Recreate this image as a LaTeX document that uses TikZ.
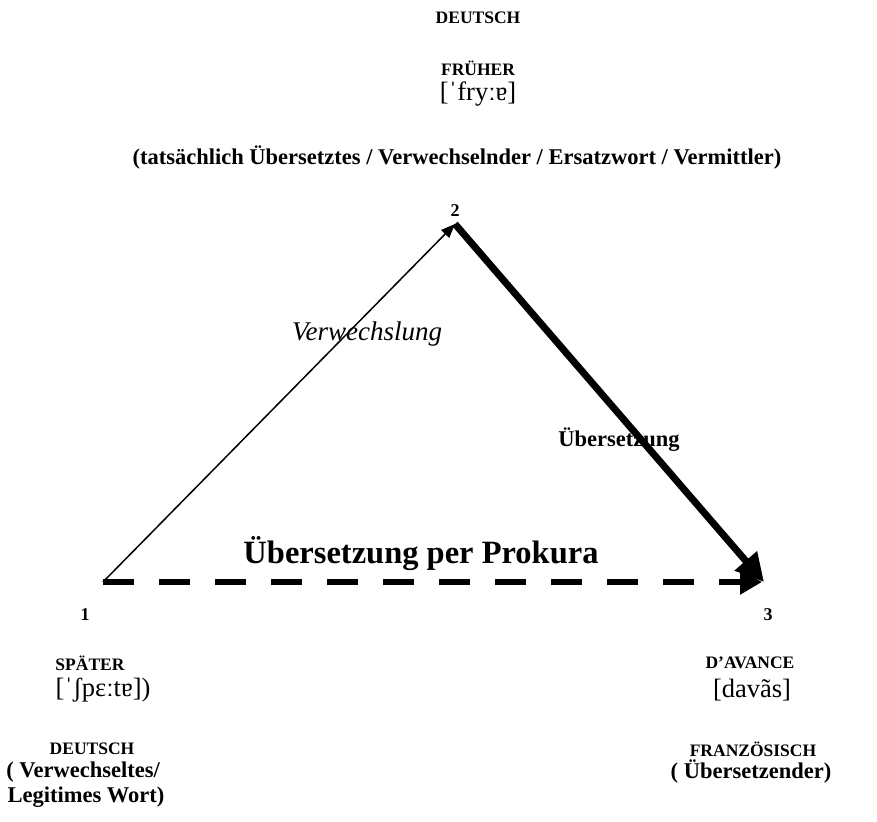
\documentclass[tikz,border=0pt]{standalone}
\usepackage{fontspec}
\setmainfont{Liberation Serif}
\usetikzlibrary{arrows.meta}
\begin{document}
\begin{tikzpicture}[x=1pt,y=-1pt,
  lbl/.style={font=\bfseries\fontsize{17.5}{21}\selectfont, inner sep=0pt, align=center},
  big/.style={font=\bfseries\fontsize{22.5}{26}\selectfont, inner sep=0pt, align=center},
  ipa/.style={font=\fontsize{26.5}{30}\selectfont, inner sep=0pt},
  num/.style={font=\bfseries\fontsize{18}{21}\selectfont, inner sep=0pt}]
\useasboundingbox (0,0) rectangle (877,821);
\fill[white] (0,0) rectangle (877,821);
\coordinate (v1) at (103,582);
\coordinate (v2) at (455,224);
\coordinate (v3) at (764,582);
\coordinate (v3d) at (762,582);
% top labels
\node[lbl] (deu) at (478,18) {DEUTSCH};
\node[lbl] (fru) at (478,68) {FRÜHER};
\node[ipa] (fruipa) at (478,94) {[ˈfryːɐ]};
\node[big] (role2) at (457,158) {(tatsächlich Übersetztes / Verwechselnder / Ersatzwort / Vermittler)};
\node[num] (n2) at (455,211) {2};
% edges
\draw[line width=1.5pt, -{Triangle[length=14pt,width=11pt]}] (v1) -- (v2);
\draw[line width=7pt, -{Triangle[length=28pt,width=28pt]}] (v2) -- (v3);
\draw[line width=6pt, dash pattern=on 31pt off 25pt, -{Triangle[length=22pt,width=24pt]}] (v1) -- (v3d);
% edge labels
\node[font=\itshape\fontsize{27}{31}\selectfont, inner sep=0pt] (lverw) at (367,334) {Verwechslung};
\node[big] (lueb) at (619,440) {Übersetzung};
\node[font=\bfseries\fontsize{32.5}{37}\selectfont, inner sep=0pt] (lprok) at (421,554) {Übersetzung per Prokura};
% vertex 1 labels
\node[num] (n1) at (85,615) {1};
\node[lbl] (spa) at (90,663) {SPÄTER};
\node[ipa] (spaipa) at (103,690) {[ˈʃpɛːtɐ])};
\node[lbl] (deu1) at (92,749) {DEUTSCH};
\node[big] (r1a) at (83,772) {( Verwechseltes/};
\node[big] (r1b) at (86,797) {Legitimes Wort)};
% vertex 3 labels
\node[num] (n3) at (768,615) {3};
\node[lbl] (dav) at (750,663) {D’AVANCE};
\node[ipa] (davipa) at (752,690) {[davãs]};
\node[lbl] (fra) at (753,749) {FRANZÖSISCH};
\node[big] (r3) at (751,772) {( Übersetzender)};
\end{tikzpicture}
\end{document}
